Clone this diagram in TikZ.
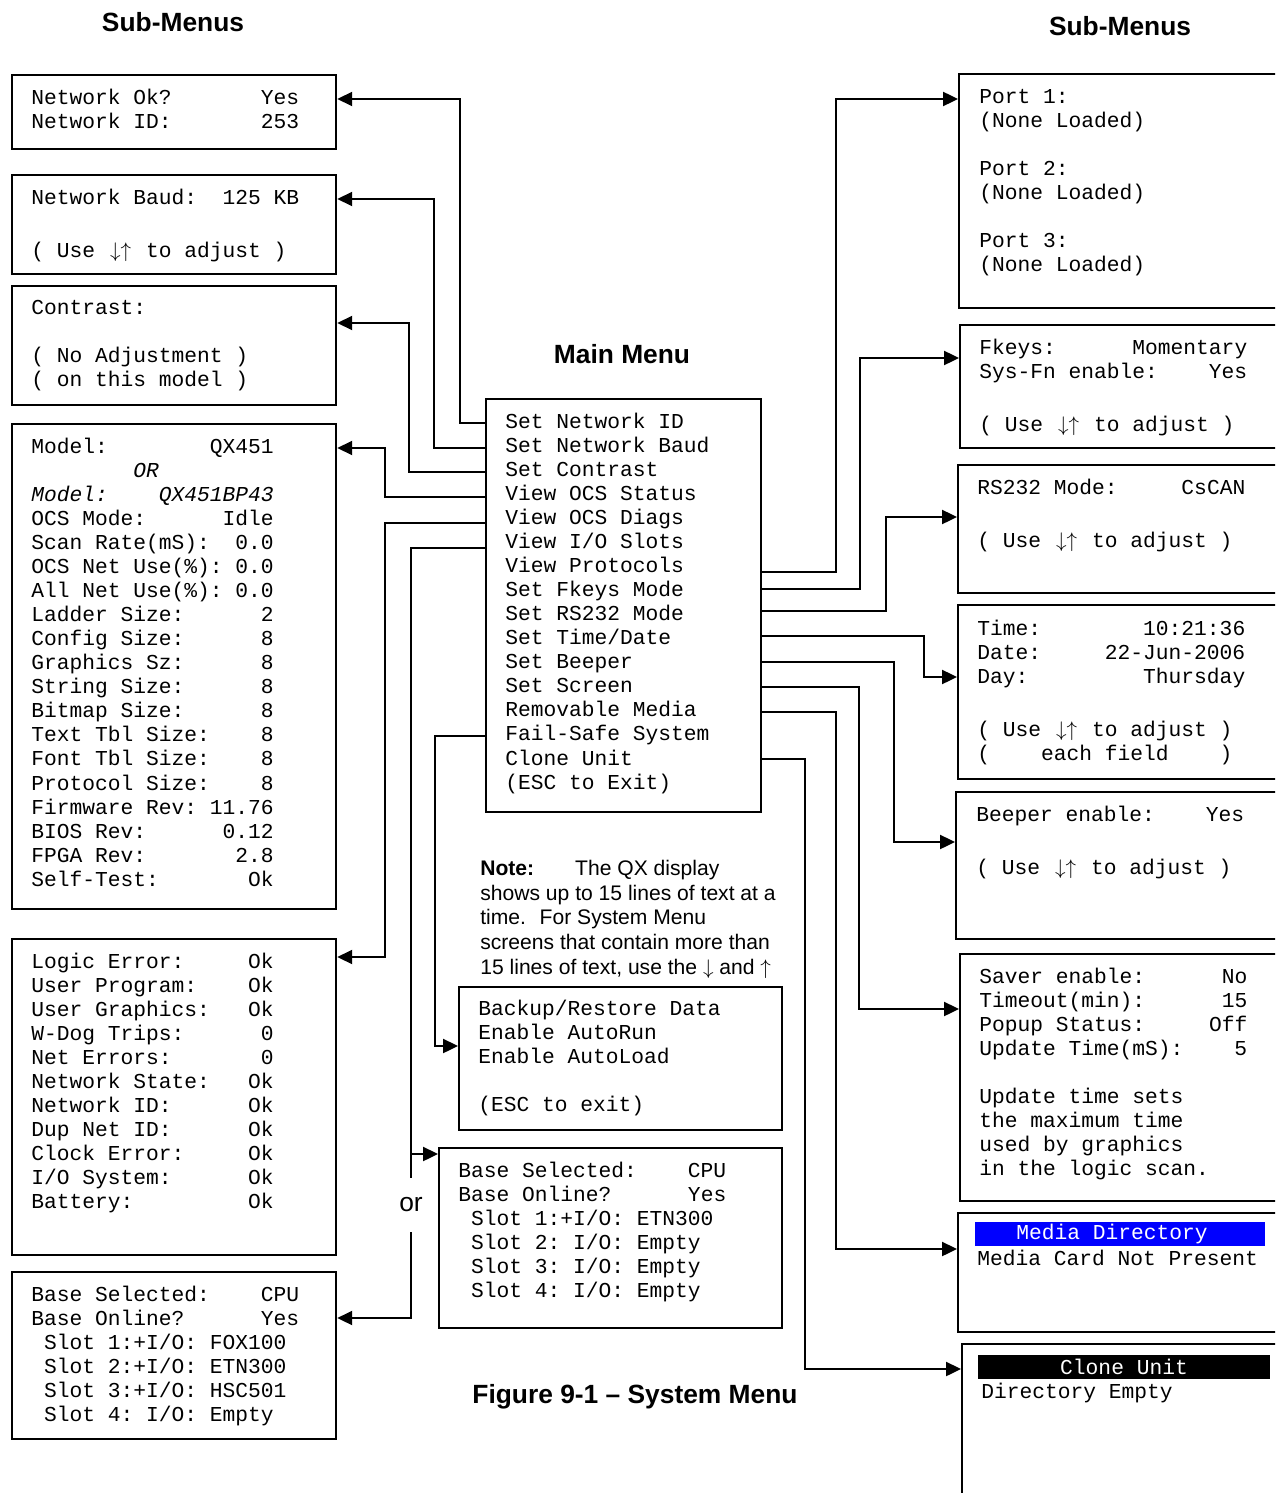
\documentclass[tikz,border=0pt]{standalone}
\usepackage{fontspec}
\setmainfont{Liberation Sans}
\setmonofont{Liberation Mono}
\newcommand\updown{\makebox[1.2em][c]{$\downarrow\uparrow$}}
\definecolor{menublue}{HTML}{0000FF}
\usepackage{tikz}
\usetikzlibrary{arrows.meta,positioning}

\begin{document}
\begin{tikzpicture}[
  x=0.02cm, y=-0.02cm,
  lcd/.style 2 args={draw, fill=white, line width=1.3pt, inner sep=0pt,
    anchor=north west, minimum width=#1*0.02cm, minimum height=#2*0.02cm},
  mono/.style={anchor=north west, inner sep=0pt, align=left,
    font=\ttfamily\fontsize{12.1}{13.67}\selectfont\frenchspacing},
  bar/.style={inner sep=0pt, text=white, minimum width=#1*0.02cm,
    minimum height=24*0.02cm,
    font=\ttfamily\fontsize{12.1}{13.67}\selectfont\frenchspacing},
  title/.style={font=\bfseries\fontsize{15}{18}\selectfont},
  note/.style={anchor=north west, inner sep=0pt, align=left,
    font=\fontsize{12}{14}\selectfont},
  ortext/.style={font=\fontsize{15}{18}\selectfont, text height=7.8pt,
    text depth=0pt, inner ysep=11.4pt, inner xsep=0pt},
  link/.style={line width=1.1pt},
  arr/.style={-{Triangle[length=8.5pt,width=8pt]}, line width=1.1pt},
]
  \useasboundingbox (0,0) rectangle (1275,1493);
  \clip (0,0) rectangle (1275,1493);

  % headings
  \node[title] (subL) at (173,22) {Sub-Menus};
  \node[title] (subR) at (1120,26) {Sub-Menus};
  \node[title] (mainT) at (622,354) {Main Menu};
  \node[title] (figT) at (635,1397) {Figure 9-1 – System Menu};

  % left screens
  \node[lcd={324}{74}] (netok) at (11,74) {};
  \node[mono] (netokT) at (31,89)
    {Network~Ok?~~~~~~~Yes\\Network~ID:~~~~~~~253};
  \node[lcd={324}{99}] (baud) at (11,174) {};
  \node[mono] (baudT) at (31,189)
    {Network~Baud:~~125~KB\\\strut\\[2.5pt](~Use~\updown~to~adjust~)};
  \node[lcd={324}{119}] (contrast) at (11,285) {};
  \node[mono] (contrastT) at (31,300)
    {Contrast:\\\strut\\(~No~Adjustment~)\\(~on~this~model~)};
  \node[lcd={324}{485}] (status) at (11,423) {};
  \node[mono] (statusT) at (31,438)
    {Model:~~~~~~~~QX451\\
     \null~~~~~~~~\textit{OR}\\
     \textit{Model:~~~~QX451BP43}\\
     OCS~Mode:~~~~~~Idle\\
     Scan~Rate(mS):~~0.0\\
     OCS~Net~Use(\%):~0.0\\
     All~Net~Use(\%):~0.0\\
     Ladder~Size:~~~~~~2\\
     Config~Size:~~~~~~8\\
     Graphics~Sz:~~~~~~8\\
     String~Size:~~~~~~8\\
     Bitmap~Size:~~~~~~8\\
     Text~Tbl~Size:~~~~8\\
     Font~Tbl~Size:~~~~8\\
     Protocol~Size:~~~~8\\
     Firmware~Rev:~11.76\\
     BIOS~Rev:~~~~~~0.12\\
     FPGA~Rev:~~~~~~~2.8\\
     Self-Test:~~~~~~~Ok};
  \node[lcd={324}{316}] (diags) at (11,938) {};
  \node[mono] (diagsT) at (31,953)
    {Logic~Error:~~~~~Ok\\
     User~Program:~~~~Ok\\
     User~Graphics:~~~Ok\\
     W-Dog~Trips:~~~~~~0\\
     Net~Errors:~~~~~~~0\\
     Network~State:~~~Ok\\
     Network~ID:~~~~~~Ok\\
     Dup~Net~ID:~~~~~~Ok\\
     Clock~Error:~~~~~Ok\\
     I/O~System:~~~~~~Ok\\
     Battery:~~~~~~~~~Ok};
  \node[lcd={324}{167}] (slotsL) at (11,1271) {};
  \node[mono] (slotsLT) at (31,1286)
    {Base~Selected:~~~~CPU\\
     Base~Online?~~~~~~Yes\\
     \null~Slot~1:+I/O:~FOX100\\
     \null~Slot~2:+I/O:~ETN300\\
     \null~Slot~3:+I/O:~HSC501\\
     \null~Slot~4:~I/O:~Empty};

  % main menu
  \node[lcd={275}{413}] (menu) at (485,398) {};
  \node[mono] (menuT) at (505,413)
    {Set~Network~ID\\Set~Network~Baud\\Set~Contrast\\View~OCS~Status\\
     View~OCS~Diags\\View~I/O~Slots\\View~Protocols\\Set~Fkeys~Mode\\
     Set~RS232~Mode\\Set~Time/Date\\Set~Beeper\\Set~Screen\\
     Removable~Media\\Fail-Safe~System\\Clone~Unit\\(ESC~to~Exit)};

  \node[note] (noteT) at (480,860)
    {\makebox[54pt][l]{\textbf{Note:}}The QX display\\
     shows up to 15 lines of text at a\\
     time.~ For System Menu\\
     screens that contain more than\\
     15 lines of text, use the $\downarrow$ and $\uparrow$};

  % middle screens
  \node[lcd={323}{143}] (failsafe) at (458,986) {};
  \node[mono] (failT) at (478,1000)
    {Backup/Restore~Data\\Enable~AutoRun\\Enable~AutoLoad\\\strut\\(ESC~to~exit)};
  \node[lcd={343}{180}] (slotsM) at (438,1147) {};
  \node[mono] (slotsMT) at (458,1162)
    {Base~Selected:~~~~CPU\\
     Base~Online?~~~~~~Yes\\
     \null~Slot~1:+I/O:~ETN300\\
     \null~Slot~2:~I/O:~Empty\\
     \null~Slot~3:~I/O:~Empty\\
     \null~Slot~4:~I/O:~Empty};
  \node[ortext] (orsplit) at (411,1205) {or};

  % right screens
  \node[lcd={337}{234}] (ports) at (958,73) {};
  \node[mono] (portsT) at (979,89)
    {Port~1:\\(None~Loaded)\\\strut\\Port~2:\\(None~Loaded)\\\strut\\
     Port~3:\\(None~Loaded)};
  \node[lcd={336}{123}] (fkeys) at (959,324) {};
  \node[mono] (fkeysT) at (979,339)
    {Fkeys:~~~~~~Momentary\\Sys-Fn~enable:~~~~Yes\\\strut\\[2.5pt]
     (~Use~\updown~to~adjust~)};
  \node[lcd={338}{128}] (rs232) at (957,464) {};
  \node[mono] (rs232T) at (977,479)
    {RS232~Mode:~~~~~CsCAN\\\strut\\[2.5pt](~Use~\updown~to~adjust~)};
  \node[lcd={338}{174}] (time) at (957,604) {};
  \node[mono] (timeT) at (977,620)
    {Time:~~~~~~~~10:21:36\\Date:~~~~~22-Jun-2006\\Day:~~~~~~~~~Thursday\\
     \strut\\[2.5pt](~Use~\updown~to~adjust~)\\(~~~~each~field~~~~)};
  \node[lcd={340}{147}] (beeper) at (955,791) {};
  \node[mono] (beeperT) at (976,806)
    {Beeper~enable:~~~~Yes\\\strut\\[2.5pt](~Use~\updown~to~adjust~)};
  \node[lcd={336}{247}] (screen) at (959,953) {};
  \node[mono] (screenT) at (979,968)
    {Saver~enable:~~~~~~No\\Timeout(min):~~~~~~15\\Popup~Status:~~~~~Off\\
     Update~Time(mS):~~~~5\\\strut\\Update~time~sets\\the~maximum~time\\
     used~by~graphics\\in~the~logic~scan.};
  \node[lcd={338}{119}] (media) at (957,1212) {};
  \node[bar=290, fill=menublue] (mediaHd) at (1120,1234)
    {Media~Directory\hspace*{0.32cm}};
  \node[mono] (mediaT) at (977,1250) {Media~Card~Not~Present};
  \node[lcd={334}{200}] (clone) at (961,1343) {};
  \node[bar=292, fill=black] (cloneHd) at (1124,1366.5) {Clone~Unit};
  \node[mono] (cloneT) at (981,1383) {Directory~Empty};

  % connectors to the left
  \draw[arr] (menu.west |- 0,423) -- ++(-25,0) |- (netok.east |- 0,99);
  \draw[arr] (menu.west |- 0,448) -- ++(-51,0) |- (baud.east |- 0,199);
  \draw[arr] (menu.west |- 0,472) -- ++(-76,0) |- (contrast.east |- 0,323);
  \draw[arr] (menu.west |- 0,497) -- ++(-100,0) |- (status.east |- 0,448);
  \draw[arr] (menu.west |- 0,523) -- ++(-100,0) |- (diags.east |- 0,957);
  \draw[link] (menu.west |- 0,548) -| (orsplit.north);
  \draw[arr] (orsplit.north |- 0,1154) -- (slotsM.west |- 0,1154);
  \draw[arr] (orsplit.south) |- (slotsL.east |- 0,1318);
  \draw[arr] (menu.west |- 0,736) -- ++(-50,0) |- (failsafe.west |- 0,1046);

  % connectors to the right
  \draw[arr] (menu.east |- 0,572) -- ++(74,0) |- (ports.west |- 0,99);
  \draw[arr] (menu.east |- 0,589) -- ++(98,0) |- (fkeys.west |- 0,358);
  \draw[arr] (menu.east |- 0,611) -- ++(124,0) |- (rs232.west |- 0,517);
  \draw[arr] (menu.east |- 0,636) -- ++(162,0) |- (time.west |- 0,677);
  \draw[arr] (menu.east |- 0,662) -- ++(132,0) |- (beeper.west |- 0,842);
  \draw[arr] (menu.east |- 0,687) -- ++(97,0) |- (screen.west |- 0,1009);
  \draw[arr] (menu.east |- 0,712) -- ++(74,0) |- (media.west |- 0,1249);
  \draw[arr] (menu.east |- 0,759) -- ++(43,0) |- (clone.west |- 0,1369);
\end{tikzpicture}
\end{document}
